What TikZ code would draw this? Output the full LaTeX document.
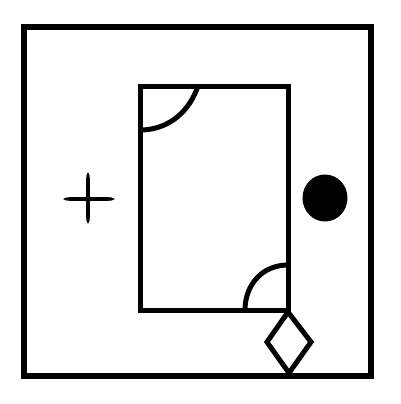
\documentclass[tikz,border=0pt]{standalone}
\begin{document}
\begin{tikzpicture}[x=1pt,y=-1pt,line join=miter,
  heavy/.style={draw=black,line width=5.5pt},
  medium/.style={draw=black,line width=5pt}]
\useasboundingbox (0,0) rectangle (400,404);
\fill[white] (0,0) rectangle (400,404);
% outer square
\draw[heavy] (24,27) rectangle (371,376);
% inner rectangle
\draw[medium] (140,86) rectangle (288,310);
% top-left arc
\draw[medium] (140,130) .. controls (170,130) and (190,110) .. (198,86);
% bottom-right arc
\draw[medium] (245,310) .. controls (245,285) and (262,265) .. (288,265);
% diamond
\draw[medium,line join=miter] (288,312) -- (311,342) -- (289,373) -- (267,342) -- cycle;
% plus
\fill (63,199) .. controls (66,197.2) .. (74,197.2) -- (104,197.2) .. controls (112,197.2) .. (115,199)
  .. controls (112,200.8) .. (104,200.8) -- (74,200.8) .. controls (66,200.8) .. (63,199) -- cycle;
\fill (88,172) .. controls (86.2,175) .. (86.2,183) -- (86.2,213) .. controls (86.2,221) .. (88,224)
  .. controls (89.8,221) .. (89.8,213) -- (89.8,183) .. controls (89.8,175) .. (88,172) -- cycle;
% filled circle
\fill (325,198) ellipse (22.5 and 23.5);
\end{tikzpicture}
\end{document}
